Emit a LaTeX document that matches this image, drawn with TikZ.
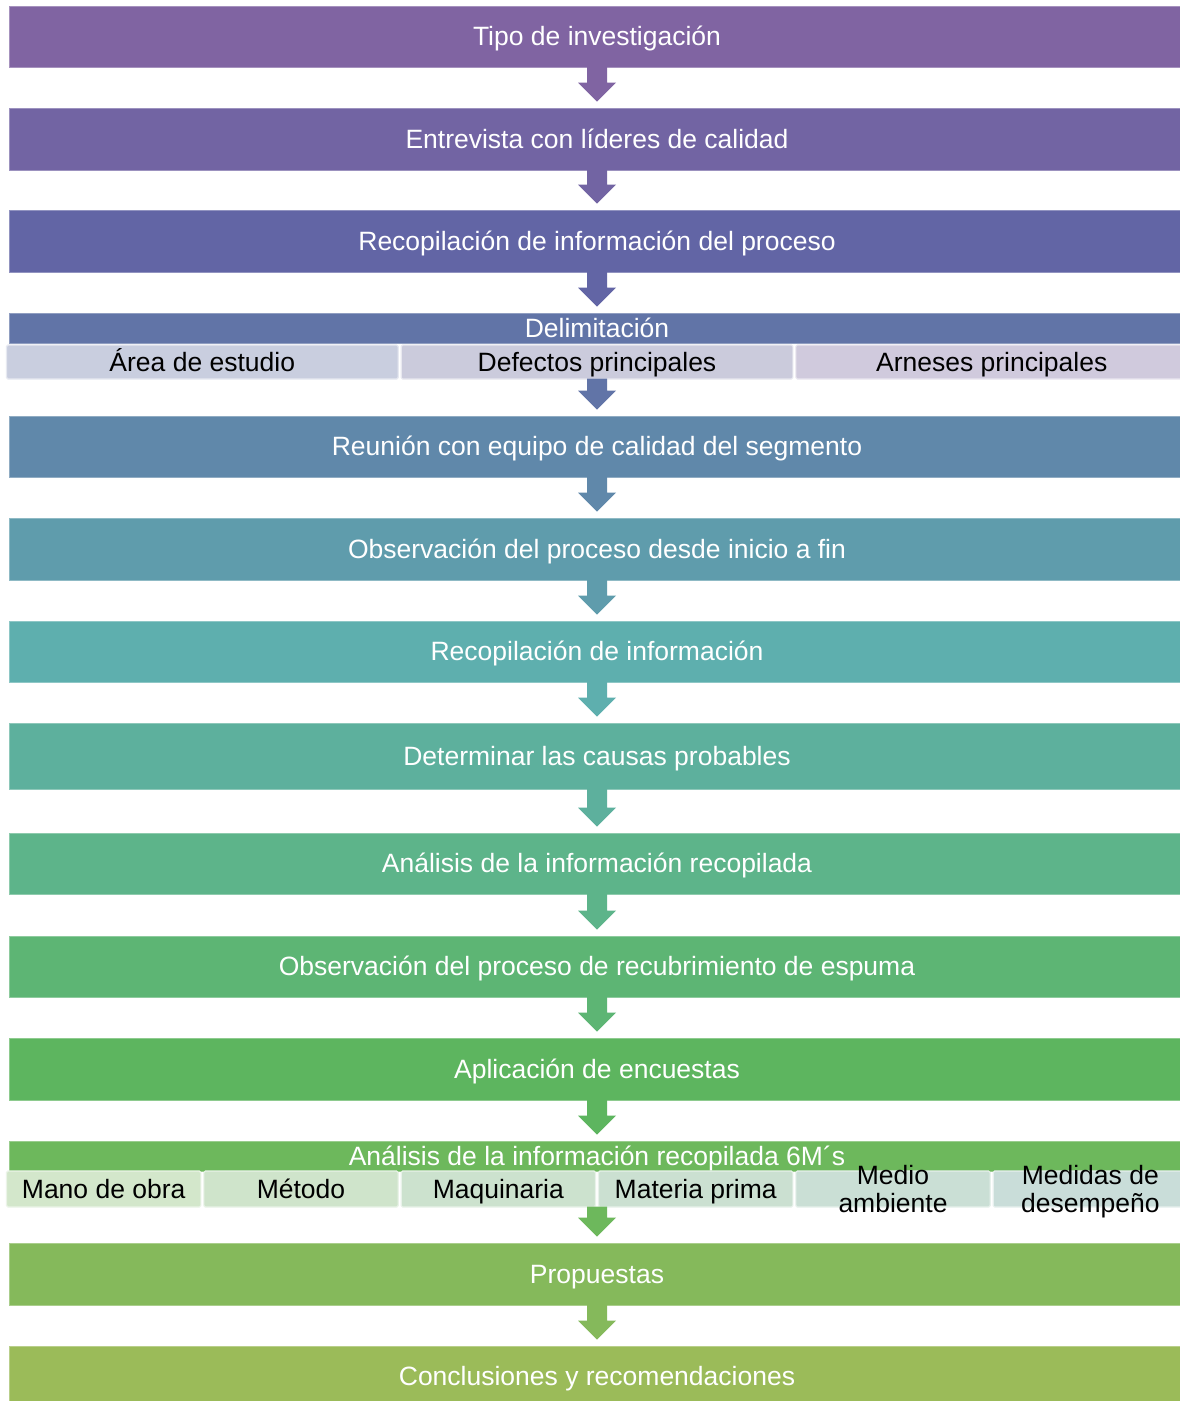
\documentclass[tikz,border=0pt]{standalone}
\usepackage{fontspec}
\setmainfont{Liberation Sans}
\usetikzlibrary{calc}

% stage colours, purple to green
\definecolor{c01}{HTML}{8064A2}
\definecolor{c02}{HTML}{7264A3}
\definecolor{c03}{HTML}{6265A5}
\definecolor{c04}{HTML}{6174A7}
\definecolor{c05}{HTML}{6088AA}
\definecolor{c06}{HTML}{5F9CAC}
\definecolor{c07}{HTML}{5EAFAE}
\definecolor{c08}{HTML}{5DB09D}
\definecolor{c09}{HTML}{5DB48A}
\definecolor{c10}{HTML}{5DB574}
\definecolor{c11}{HTML}{5DB55F}
\definecolor{c12}{HTML}{6DB85C}
\definecolor{c13}{HTML}{85B95B}
\definecolor{c14}{HTML}{9BBB59}
% sub-item tints
\definecolor{d1}{HTML}{C9CEDF}
\definecolor{d2}{HTML}{CBCBDC}
\definecolor{d3}{HTML}{D0CADD}
\definecolor{m1}{HTML}{D3E7CB}
\definecolor{m2}{HTML}{CFE4CB}
\definecolor{m3}{HTML}{CCE2CE}
\definecolor{m4}{HTML}{CBE0D1}
\definecolor{m5}{HTML}{CADFD5}
\definecolor{m6}{HTML}{C9DDD9}

\newcommand\stagefont{\fontsize{26.5}{28}\selectfont}

% block arrow from a point to just above a node's top edge
\newcommand\flowarrow[3]{%
  \fill[#3] ($(#1)+(-10,-1)$) -- ($(#1)+(10,-1)$)
    -- ($(#2.north)+(10,-25)$) -- ($(#2.north)+(19,-25)$)
    -- ($(#2.north)+(0,-6)$)
    -- ($(#2.north)+(-19,-25)$) -- ($(#2.north)+(-10,-25)$) -- cycle;}

\tikzset{
  stage/.style={fill=#1, draw=#1!70!white, line width=0.8pt, text=white,
    minimum width=1176pt, minimum height=61pt, inner sep=0pt,
    text height=24pt, text depth=5.6pt, font=\stagefont},
  part/.style={fill=#1, draw=white!55!#1, line width=1.2pt,
    rounded corners=1.5pt, text=black, inner sep=0pt,
    minimum height=34pt, text height=24pt, text depth=5.6pt,
    font=\stagefont},
  sixpart/.style={part=#1, minimum width=194.3pt, minimum height=36pt},
  twoline/.style={text=black, inner sep=0pt, align=center, text depth=0pt,
    font=\stagefont},
}

\begin{document}
\begin{tikzpicture}[x=1pt,y=-1pt]
\useasboundingbox (0,0) rectangle (1180,1401);
\fill[white] (0,0) rectangle (1180,1401);
\clip (0,0) rectangle (1180,1401);

\node[stage=c01] (b1) at (597,36.5) {Tipo de investigación};
\node[stage=c02, minimum height=62pt] (b2) at (597,139) {Entrevista con líderes de calidad};
\node[stage=c03, minimum height=62pt] (b3) at (597,241) {Recopilación de información del proceso};

\node[stage=c04, minimum height=30pt] (b4) at (597,328) {Delimitación};
\node[part=d1, minimum width=391.7pt] (d1) at (202.3,362) {Área de estudio};
\node[part=d2, minimum width=391.7pt] (d2) at (597,362) {Defectos principales};
\node[part=d3, minimum width=391.7pt] (d3) at (991.7,362) {Arneses principales};

\node[stage=c05] (b5) at (597,446.5) {Reunión con equipo de calidad del segmento};
\node[stage=c06, minimum height=62pt] (b6) at (597,549) {Observación del proceso desde inicio a fin};
\node[stage=c07] (b7) at (597,651.5) {Recopilación de información};
\node[stage=c08, minimum height=66pt] (b8) at (597,756) {Determinar las causas probables};
\node[stage=c09] (b9) at (597,863.5) {Análisis de la información recopilada};
\node[stage=c10] (b10) at (597,966.5) {Observación del proceso de recubrimiento de espuma};
\node[stage=c11, minimum height=62pt] (b11) at (597,1069) {Aplicación de encuestas};

\node[stage=c12, minimum height=30pt] (b12) at (597,1156) {Análisis de la información recopilada 6M´s};
\node[sixpart=m1] (p1) at (103.7,1189) {Mano de obra};
\node[sixpart=m2] (p2) at (301,1189) {Método};
\node[sixpart=m3] (p3) at (498.3,1189) {Maquinaria};
\node[sixpart=m4] (p4) at (695.7,1189) {Materia prima};
\node[sixpart=m5] (p5) at (893,1189) {};
\node[sixpart=m6] (p6) at (1090.3,1189) {};
\node[twoline] (t5) at (p5.center) {Medio\\ambiente};
\node[twoline] (t6) at (p6.center) {Medidas de\\desempeño};

\node[stage=c13, minimum height=62pt] (b13) at (597,1274) {Propuestas};
\node[stage=c14] (b14) at (597,1376.5) {Conclusiones y recomendaciones};

% connectors
\coordinate (q12) at ($(p3.south east)!0.5!(p4.south west)$);
\flowarrow{b1.south}{b2}{c01}
\flowarrow{b2.south}{b3}{c02}
\flowarrow{b3.south}{b4}{c03}
\flowarrow{d2.south}{b5}{c04}
\flowarrow{b5.south}{b6}{c05}
\flowarrow{b6.south}{b7}{c06}
\flowarrow{b7.south}{b8}{c07}
\flowarrow{b8.south}{b9}{c08}
\flowarrow{b9.south}{b10}{c09}
\flowarrow{b10.south}{b11}{c10}
\flowarrow{b11.south}{b12}{c11}
\flowarrow{q12}{b13}{c12}
\flowarrow{b13.south}{b14}{c13}
\end{tikzpicture}
\end{document}
